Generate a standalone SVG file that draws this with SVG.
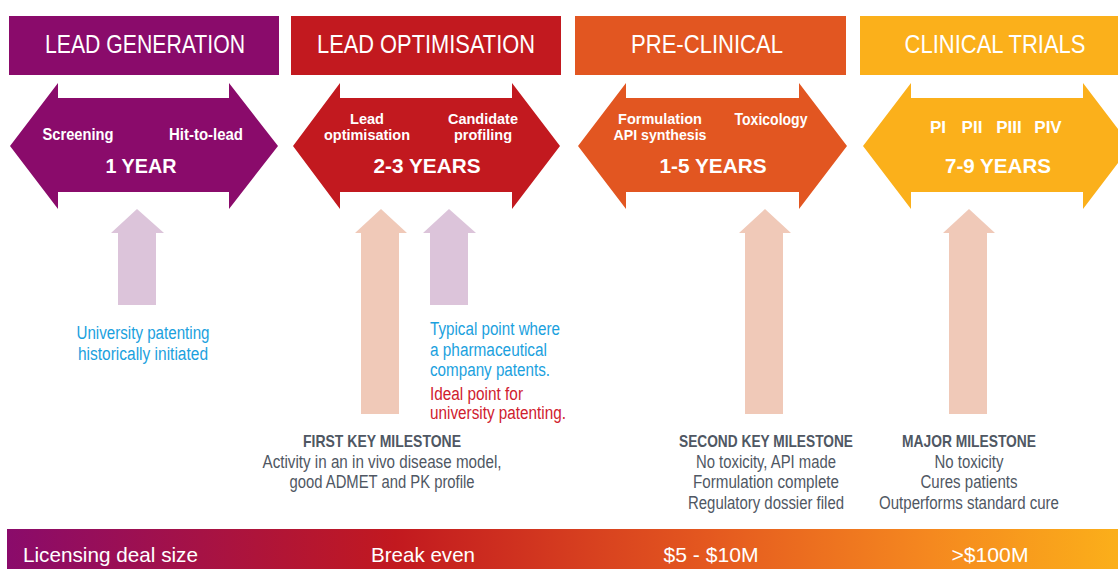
<svg xmlns="http://www.w3.org/2000/svg" width="1118" height="569" viewBox="0 0 1118 569">
<defs>
<linearGradient id="bar" x1="7" y1="0" x2="1118" y2="0" gradientUnits="userSpaceOnUse">
<stop offset="0" stop-color="#8A0B6B"/>
<stop offset="0.35" stop-color="#C2191F"/>
<stop offset="0.63" stop-color="#E4581F"/>
<stop offset="0.83" stop-color="#F5881F"/>
<stop offset="1" stop-color="#FBAF1A"/>
</linearGradient>
</defs>
<style>
text{font-family:"Liberation Sans Narrow","Liberation Sans",Arial,sans-serif}
.hd{fill:#fff;font-size:25px;text-anchor:middle}
.lb{fill:#fff;font-size:17px;font-weight:bold;text-anchor:middle}
.l2{fill:#fff;font-size:15px;font-weight:bold;text-anchor:middle}
.yr{fill:#fff;font-size:21px;font-weight:bold;text-anchor:middle}
.bl{fill:#1BA1DE;font-size:18px}
.rd{fill:#D0202E;font-size:18px}
.gh{fill:#4F5763;font-size:17px;font-weight:bold;text-anchor:middle}
.gt{fill:#4F5763;font-size:17.5px;text-anchor:middle}
.bt{fill:#fff;font-size:21px}
.pu{fill:#8A0B6B}.re{fill:#C2191F}.or{fill:#E25621}.ye{fill:#FBB01B}
.lp{fill:#DCC4DA}.pe{fill:#F0C9B8}
</style>

<g id="stage-lead-generation">
<rect class="pu" x="9" y="16" width="270" height="59"/>
<text class="hd" x="145" y="53" textLength="200" lengthAdjust="spacingAndGlyphs">LEAD GENERATION</text>
<path class="pu" d="M10,146 L58,83 L58,98 L229,98 L229,83 L278,146 L229,209 L229,192 L58,192 L58,209 Z"/>
<text class="lb" x="78" y="140" textLength="71" lengthAdjust="spacingAndGlyphs">Screening</text>
<text class="lb" x="206" y="140" textLength="74" lengthAdjust="spacingAndGlyphs">Hit-to-lead</text>
<text class="yr" x="141" y="173" textLength="71" lengthAdjust="spacingAndGlyphs">1 YEAR</text>
</g>

<g id="stage-lead-optimisation">
<rect class="re" x="291" y="16" width="270" height="59"/>
<text class="hd" x="426" y="53" textLength="218" lengthAdjust="spacingAndGlyphs">LEAD OPTIMISATION</text>
<path class="re" d="M293,146 L340,83 L340,98 L512,98 L512,83 L560,146 L512,209 L512,192 L340,192 L340,209 Z"/>
<text class="l2" x="367" y="124" textLength="34" lengthAdjust="spacingAndGlyphs">Lead</text>
<text class="l2" x="367" y="140" textLength="86" lengthAdjust="spacingAndGlyphs">optimisation</text>
<text class="l2" x="483" y="124" textLength="70" lengthAdjust="spacingAndGlyphs">Candidate</text>
<text class="l2" x="483" y="140" textLength="58" lengthAdjust="spacingAndGlyphs">profiling</text>
<text class="yr" x="427" y="173" textLength="107" lengthAdjust="spacingAndGlyphs">2-3 YEARS</text>
</g>

<g id="stage-pre-clinical">
<rect class="or" x="575" y="16" width="271" height="59"/>
<text class="hd" x="707" y="53" textLength="152" lengthAdjust="spacingAndGlyphs">PRE-CLINICAL</text>
<path class="or" d="M578,146 L626,83 L626,98 L799,98 L799,83 L847,146 L799,209 L799,192 L626,192 L626,209 Z"/>
<text class="l2" x="660" y="124" textLength="84" lengthAdjust="spacingAndGlyphs">Formulation</text>
<text class="l2" x="660" y="140" textLength="93" lengthAdjust="spacingAndGlyphs">API synthesis</text>
<text class="lb" x="771" y="125" textLength="73" lengthAdjust="spacingAndGlyphs">Toxicology</text>
<text class="yr" x="713" y="173" textLength="107" lengthAdjust="spacingAndGlyphs">1-5 YEARS</text>
</g>

<g id="stage-clinical-trials">
<rect class="ye" x="860" y="16" width="258" height="59"/>
<text class="hd" x="995" y="53" textLength="181" lengthAdjust="spacingAndGlyphs">CLINICAL TRIALS</text>
<path class="ye" d="M863,146 L911,83 L911,98 L1083,98 L1083,83 L1131,146 L1083,209 L1083,192 L911,192 L911,209 Z"/>
<text class="lb" x="938" y="133">PI</text>
<text class="lb" x="972" y="133">PII</text>
<text class="lb" x="1009" y="133">PIII</text>
<text class="lb" x="1048" y="133">PIV</text>
<text class="yr" x="998" y="173" textLength="106" lengthAdjust="spacingAndGlyphs">7-9 YEARS</text>
</g>

<g id="connectors">
<path class="lp" d="M137,209 L164,233 L156,233 L156,305 L118,305 L118,233 L111,233 Z"/>
<path class="pe" d="M381,209 L407,233 L399,233 L399,414 L361,414 L361,233 L355,233 Z"/>
<path class="lp" d="M449,209 L476,233 L468,233 L468,305 L430,305 L430,233 L423,233 Z"/>
<path class="pe" d="M765,209 L791,233 L783,233 L783,414 L745,414 L745,233 L739,233 Z"/>
<path class="pe" d="M969,209 L995,233 L987,233 L987,414 L949,414 L949,233 L943,233 Z"/>
</g>

<g id="note-university-historic">
<text class="bl" x="143" y="339" text-anchor="middle" textLength="133" lengthAdjust="spacingAndGlyphs">University patenting</text>
<text class="bl" x="143" y="360" text-anchor="middle" textLength="130" lengthAdjust="spacingAndGlyphs">historically initiated</text>
</g>

<g id="note-typical-point">
<text class="bl" x="430" y="335" textLength="130" lengthAdjust="spacingAndGlyphs">Typical point where</text>
<text class="bl" x="430" y="356" textLength="117" lengthAdjust="spacingAndGlyphs">a pharmaceutical</text>
<text class="bl" x="430" y="376" textLength="120" lengthAdjust="spacingAndGlyphs">company patents.</text>
<text class="rd" x="430" y="400" textLength="93" lengthAdjust="spacingAndGlyphs">Ideal point for</text>
<text class="rd" x="430" y="419" textLength="136" lengthAdjust="spacingAndGlyphs">university patenting.</text>
</g>

<g id="milestone-first">
<text class="gh" x="382" y="447" textLength="158" lengthAdjust="spacingAndGlyphs">FIRST KEY MILESTONE</text>
<text class="gt" x="382" y="468" textLength="239" lengthAdjust="spacingAndGlyphs">Activity in an in vivo disease model,</text>
<text class="gt" x="382" y="488" textLength="185" lengthAdjust="spacingAndGlyphs">good ADMET and PK profile</text>
</g>

<g id="milestone-second">
<text class="gh" x="766" y="447" textLength="174" lengthAdjust="spacingAndGlyphs">SECOND KEY MILESTONE</text>
<text class="gt" x="766" y="468" textLength="140" lengthAdjust="spacingAndGlyphs">No toxicity, API made</text>
<text class="gt" x="766" y="488" textLength="146" lengthAdjust="spacingAndGlyphs">Formulation complete</text>
<text class="gt" x="766" y="509" textLength="156" lengthAdjust="spacingAndGlyphs">Regulatory dossier filed</text>
</g>

<g id="milestone-major">
<text class="gh" x="969" y="447" textLength="134" lengthAdjust="spacingAndGlyphs">MAJOR MILESTONE</text>
<text class="gt" x="969" y="468" textLength="69" lengthAdjust="spacingAndGlyphs">No toxicity</text>
<text class="gt" x="969" y="488" textLength="97" lengthAdjust="spacingAndGlyphs">Cures patients</text>
<text class="gt" x="969" y="509" textLength="180" lengthAdjust="spacingAndGlyphs">Outperforms standard cure</text>
</g>

<g id="licensing-bar">
<rect x="7" y="529" width="1111" height="40" fill="url(#bar)"/>
<text class="bt" x="23" y="562" textLength="175" lengthAdjust="spacingAndGlyphs">Licensing deal size</text>
<text class="bt" x="423" y="562" text-anchor="middle" textLength="104" lengthAdjust="spacingAndGlyphs">Break even</text>
<text class="bt" x="711" y="562" text-anchor="middle" textLength="95" lengthAdjust="spacingAndGlyphs">$5 - $10M</text>
<text class="bt" x="990" y="562" text-anchor="middle" textLength="77" lengthAdjust="spacingAndGlyphs">&gt;$100M</text>
</g>
</svg>
